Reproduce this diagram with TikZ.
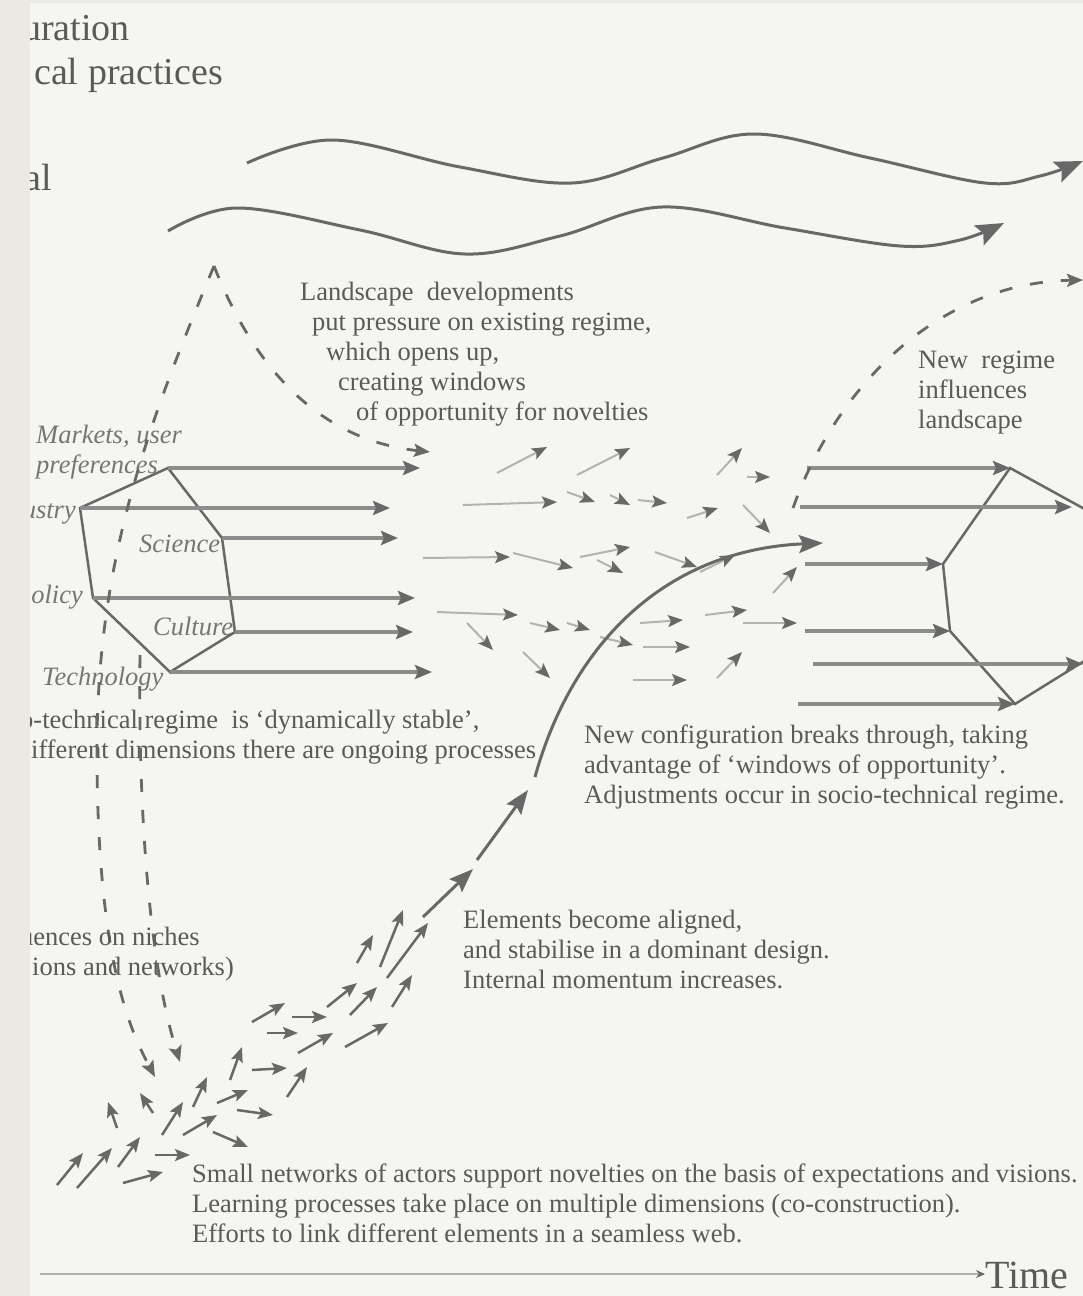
\documentclass[tikz,border=0pt]{standalone}
\usepackage{fontspec}
\setmainfont{Liberation Serif}
\usepackage{xcolor}
\definecolor{cPaper}{HTML}{F5F5F1}
\definecolor{cStrip}{HTML}{EBE9E3}
\definecolor{cInk}{HTML}{686868}
\definecolor{cShaft}{HTML}{8C8C8C}
\definecolor{cFaint}{HTML}{B2B2B2}
\definecolor{cText}{HTML}{5A5A5A}
\definecolor{cLabel}{HTML}{767676}
\usepackage{tikz}
\usetikzlibrary{arrows.meta}
\newcommand{\notefont}{\fontsize{26.5}{30}\selectfont}
\newcommand{\bigfont}{\fontsize{38}{46}\selectfont}
\tikzset{
  note-text/.style={text=cText,font=\notefont,align=left,inner sep=0pt,anchor=base west},
  dim-label/.style={text=cLabel,font=\notefont\itshape,align=left,inner sep=0pt,anchor=base west},
  big-text/.style={text=cText,font=\bigfont,inner sep=0pt,anchor=base west},
  hex-line/.style={line width=2.5pt,draw=cInk,line join=miter},
  wave-arrow/.style={-{Stealth[length=28pt,width=22pt,inset=5pt]},line width=3pt,draw=cInk},
  curve-arrow/.style={-{Stealth[length=24pt,width=18pt,inset=4pt]},line width=3pt,draw=cInk},
  regime-arrow/.style={-{Stealth[length=17pt,width=14pt,inset=3pt,color=cInk]},line width=3.5pt,draw=cShaft},
  niche-arrow/.style={-{Stealth[length=15pt,width=12pt,inset=3pt]},line width=2.5pt,draw=cInk},
  drift-arrow/.style={-{Stealth[length=15pt,width=12pt,inset=3pt,color=cInk]},line width=2pt,draw=cFaint},
  influence-line/.style={-{Stealth[length=16pt,width=13pt,inset=3pt]},line width=2.8pt,draw=cInk,
    dash pattern=on 13pt off 18pt},
  time-axis/.style={-{Stealth[length=9pt,width=8pt,color=cInk]},line width=1.5pt,draw=cFaint},
}

\begin{document}
\begin{tikzpicture}[x=1pt,y=-1pt]
  \useasboundingbox (0,0) rectangle (1083,1296);
  \fill[cPaper] (0,0) rectangle (1083,1296);

  % landscape (multi-line notes sit on their last baseline)
  \draw[wave-arrow] plot[smooth,tension=0.6] coordinates {(247,163) (333,140) (460,167) (572,183)
    (663,158) (754,134) (870,158) (985,183) (1040,176) (1083,161)};
  \draw[wave-arrow] plot[smooth,tension=0.6] coordinates {(168,231) (237,208) (360,230) (465,254)
    (560,236) (662,207) (785,228) (900,246) (960,240) (1004,223)};
  \node[note-text] (land-note) at (300,420) {Landscape\ \ developments\\
    \hspace*{12pt}put pressure on existing regime,\\
    \hspace*{26pt}which opens up,\\
    \hspace*{38pt}creating windows\\
    \hspace*{56pt}of opportunity for novelties};
  \node[note-text] (newreg-note) at (918,428) {New\ \ regime\\influences\\landscape};

  % regime
  \coordinate (reg-a) at (168,468);
  \coordinate (reg-b) at (222,538);
  \coordinate (reg-c) at (235,632);
  \coordinate (reg-d) at (170,672);
  \coordinate (reg-e) at (93,598);
  \coordinate (reg-f) at (80,508);
  \node[dim-label] (markets) at (36,473) {Markets, user\\preferences};
  \node[dim-label,anchor=base east] (industry) at (76,518) {ustry};
  \node[dim-label] (science) at (139,552) {Science};
  \node[dim-label,anchor=base east] (policy) at (83,603) {olicy};
  \node[dim-label] (culture) at (153,635) {Culture};
  \node[dim-label] (technology) at (42,685) {Technology};
  \draw[hex-line] (reg-a) -- (reg-b) -- (reg-c) -- (reg-d) -- (reg-e) -- (reg-f) -- cycle;
  \foreach \v/\len in {reg-a/252, reg-f/310, reg-b/176, reg-e/322, reg-c/178, reg-d/262}
    \draw[regime-arrow] (\v) -- +(\len,0);
  \node[note-text] (regime-note) at (20,758) {o-technical regime\ \ is ‘dynamically stable’,\\
    \hspace*{11pt}ifferent dimensions there are ongoing processes};

  % new regime
  \coordinate (new-p) at (1010,468);
  \coordinate (new-q) at (943,564);
  \coordinate (new-r) at (950,631);
  \coordinate (new-s) at (1015,704);
  \draw[hex-line] (1110,523) -- (new-p) -- (new-q) -- (new-r) -- (new-s) -- (1110,645);
  \draw[regime-arrow] (807,468) -- (new-p);
  \draw[regime-arrow] (800,507) -- (1072,507);
  \draw[regime-arrow] (805,564) -- (new-q);
  \draw[regime-arrow] (805,631) -- (new-r);
  \draw[regime-arrow] (813,664) -- (1083,664);
  \draw[regime-arrow] (798,704) -- (new-s);
  \node[note-text] (break-note) at (584,803) {New configuration breaks through, taking\\
    advantage of ‘windows of opportunity’.\\Adjustments occur in socio-technical regime.};

  % influences
  \coordinate (land-peak) at (214,266);
  \draw[influence-line] (land-peak) .. controls (255,370) and (320,440) .. (430,452);
  \draw[influence-line] (land-peak) .. controls (150,420) and (95,560) .. (97,760)
    .. controls (98,960) and (130,1030) .. (155,1077);
  \draw[influence-line] (140,655) .. controls (138,800) and (148,960) .. (180,1062);
  \draw[influence-line] (793,508) .. controls (835,390) and (935,283) .. (1083,280);

  % windows of opportunity
  \foreach \xa/\ya/\xb/\yb in {497/473/547/447, 577/475/630/448, 717/475/742/448, 747/477/770/477,
      463/505/557/502, 567/492/595/502, 610/495/630/505, 638/500/667/503, 687/518/718/508,
      743/505/770/533, 423/558/510/557, 513/553/573/568, 580/557/630/547, 597/560/623/573,
      655/552/697/567, 700/572/735/555, 773/593/797/567, 437/612/518/615, 467/623/493/650,
      530/623/560/630, 567/623/590/630, 600/637/633/645, 640/623/683/620, 705/615/747/610,
      743/623/797/623, 523/652/550/678, 643/647/690/647, 633/680/687/680, 717/678/742/652}
    \draw[drift-arrow] (\xa,\ya) -- (\xb,\yb);

  % niches
  \foreach \xa/\ya/\xb/\yb in {57/1185/83/1153, 77/1188/112/1148, 118/1167/140/1137,
      123/1183/163/1172, 155/1155/190/1155, 117/1128/108/1102, 153/1113/140/1093,
      162/1135/183/1102, 183/1135/217/1115, 213/1132/248/1147, 193/1107/207/1077,
      217/1103/248/1090, 237/1110/273/1115, 230/1080/242/1047, 252/1070/287/1068,
      287/1097/307/1067, 252/1022/285/1003, 267/1033/298/1033, 292/1017/327/1017,
      298/1053/333/1033, 327/1007/357/983, 350/1015/377/987, 345/1047/388/1023,
      392/1007/412/975, 357/963/373/935, 380/967/403/910, 387/978/428/923}
    \draw[niche-arrow] (\xa,\ya) -- (\xb,\yb);
  \draw[curve-arrow] (423,917) -- (473,869);
  \draw[curve-arrow] (477,860) -- (528,790);
  \draw[curve-arrow] (535,777) .. controls (570,650) and (660,550) .. (823,543);
  \node[note-text] (niche-note) at (20,975) {uences on niches\\
    \hspace*{12pt}ions and networks)};
  \node[note-text] (aligned-note) at (463,988) {Elements become aligned,\\
    and stabilise in a dominant design.\\Internal momentum increases.};
  \node[note-text] (small-note) at (192,1242) {Small networks of actors support novelties on the basis of expectations and visions.\\
    Learning processes take place on multiple dimensions (co-construction).\\
    Efforts to link different elements in a seamless web.};

  % levels and time
  \node[big-text] (struct-note) at (22,40) {uration};
  \node[big-text] (local-note) at (34,84) {cal practices};
  \node[big-text] (level-note) at (24,190) {al};
  \coordinate (t0) at (40,1274);
  \node[big-text,font=\fontsize{40}{48}\selectfont] (time) at (985,1288) {Time};
  \draw[time-axis] (t0) -- (time.west |- t0);
  \fill[cStrip] (0,0) rectangle (30,1296);
  \fill[cStrip] (0,0) rectangle (1083,3);
\end{tikzpicture}
\end{document}
